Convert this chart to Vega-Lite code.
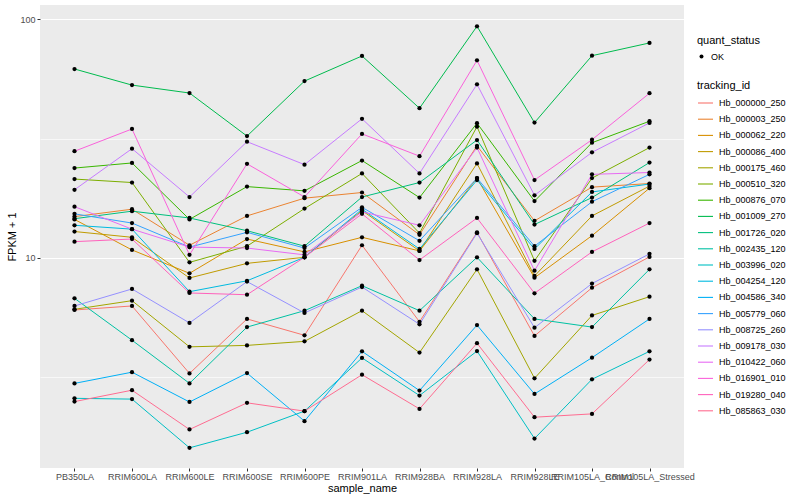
{
"$schema": "https://vega.github.io/schema/vega-lite/v6.json",
"width": 644,
"height": 463,
"autosize": "none",
"padding": {"left": 40, "top": 5, "right": 116, "bottom": 32},
"background": "white",
"datasets": {"expr": [
{"sample_name":"PB350LA","tracking_id":"Hb_000000_250","fpkm":6.05,"quant_status":"OK"},
{"sample_name":"RRIM600LA","tracking_id":"Hb_000000_250","fpkm":6.29,"quant_status":"OK"},
{"sample_name":"RRIM600LE","tracking_id":"Hb_000000_250","fpkm":3.28,"quant_status":"OK"},
{"sample_name":"RRIM600SE","tracking_id":"Hb_000000_250","fpkm":5.55,"quant_status":"OK"},
{"sample_name":"RRIM600PE","tracking_id":"Hb_000000_250","fpkm":4.74,"quant_status":"OK"},
{"sample_name":"RRIM901LA","tracking_id":"Hb_000000_250","fpkm":11.3,"quant_status":"OK"},
{"sample_name":"RRIM928BA","tracking_id":"Hb_000000_250","fpkm":5.40,"quant_status":"OK"},
{"sample_name":"RRIM928LA","tracking_id":"Hb_000000_250","fpkm":12.8,"quant_status":"OK"},
{"sample_name":"RRIM928LE","tracking_id":"Hb_000000_250","fpkm":4.71,"quant_status":"OK"},
{"sample_name":"RRIM105LA_Control","tracking_id":"Hb_000000_250","fpkm":7.50,"quant_status":"OK"},
{"sample_name":"RRIM105LA_Stressed","tracking_id":"Hb_000000_250","fpkm":10.1,"quant_status":"OK"},
{"sample_name":"PB350LA","tracking_id":"Hb_000003_250","fpkm":14.9,"quant_status":"OK"},
{"sample_name":"RRIM600LA","tracking_id":"Hb_000003_250","fpkm":16.0,"quant_status":"OK"},
{"sample_name":"RRIM600LE","tracking_id":"Hb_000003_250","fpkm":11.3,"quant_status":"OK"},
{"sample_name":"RRIM600SE","tracking_id":"Hb_000003_250","fpkm":15.0,"quant_status":"OK"},
{"sample_name":"RRIM600PE","tracking_id":"Hb_000003_250","fpkm":17.8,"quant_status":"OK"},
{"sample_name":"RRIM901LA","tracking_id":"Hb_000003_250","fpkm":18.8,"quant_status":"OK"},
{"sample_name":"RRIM928BA","tracking_id":"Hb_000003_250","fpkm":12.5,"quant_status":"OK"},
{"sample_name":"RRIM928LA","tracking_id":"Hb_000003_250","fpkm":29.5,"quant_status":"OK"},
{"sample_name":"RRIM928LE","tracking_id":"Hb_000003_250","fpkm":14.3,"quant_status":"OK"},
{"sample_name":"RRIM105LA_Control","tracking_id":"Hb_000003_250","fpkm":19.8,"quant_status":"OK"},
{"sample_name":"RRIM105LA_Stressed","tracking_id":"Hb_000003_250","fpkm":20.5,"quant_status":"OK"},
{"sample_name":"PB350LA","tracking_id":"Hb_000062_220","fpkm":14.5,"quant_status":"OK"},
{"sample_name":"RRIM600LA","tracking_id":"Hb_000062_220","fpkm":10.8,"quant_status":"OK"},
{"sample_name":"RRIM600LE","tracking_id":"Hb_000062_220","fpkm":8.62,"quant_status":"OK"},
{"sample_name":"RRIM600SE","tracking_id":"Hb_000062_220","fpkm":12.0,"quant_status":"OK"},
{"sample_name":"RRIM600PE","tracking_id":"Hb_000062_220","fpkm":10.6,"quant_status":"OK"},
{"sample_name":"RRIM901LA","tracking_id":"Hb_000062_220","fpkm":12.2,"quant_status":"OK"},
{"sample_name":"RRIM928BA","tracking_id":"Hb_000062_220","fpkm":10.7,"quant_status":"OK"},
{"sample_name":"RRIM928LA","tracking_id":"Hb_000062_220","fpkm":21.6,"quant_status":"OK"},
{"sample_name":"RRIM928LE","tracking_id":"Hb_000062_220","fpkm":8.26,"quant_status":"OK"},
{"sample_name":"RRIM105LA_Control","tracking_id":"Hb_000062_220","fpkm":12.4,"quant_status":"OK"},
{"sample_name":"RRIM105LA_Stressed","tracking_id":"Hb_000062_220","fpkm":19.6,"quant_status":"OK"},
{"sample_name":"PB350LA","tracking_id":"Hb_000086_400","fpkm":12.9,"quant_status":"OK"},
{"sample_name":"RRIM600LA","tracking_id":"Hb_000086_400","fpkm":12.2,"quant_status":"OK"},
{"sample_name":"RRIM600LE","tracking_id":"Hb_000086_400","fpkm":8.24,"quant_status":"OK"},
{"sample_name":"RRIM600SE","tracking_id":"Hb_000086_400","fpkm":9.49,"quant_status":"OK"},
{"sample_name":"RRIM600PE","tracking_id":"Hb_000086_400","fpkm":10.06,"quant_status":"OK"},
{"sample_name":"RRIM901LA","tracking_id":"Hb_000086_400","fpkm":15.8,"quant_status":"OK"},
{"sample_name":"RRIM928BA","tracking_id":"Hb_000086_400","fpkm":10.7,"quant_status":"OK"},
{"sample_name":"RRIM928LA","tracking_id":"Hb_000086_400","fpkm":24.9,"quant_status":"OK"},
{"sample_name":"RRIM928LE","tracking_id":"Hb_000086_400","fpkm":8.40,"quant_status":"OK"},
{"sample_name":"RRIM105LA_Control","tracking_id":"Hb_000086_400","fpkm":15.0,"quant_status":"OK"},
{"sample_name":"RRIM105LA_Stressed","tracking_id":"Hb_000086_400","fpkm":20.0,"quant_status":"OK"},
{"sample_name":"PB350LA","tracking_id":"Hb_000175_460","fpkm":6.09,"quant_status":"OK"},
{"sample_name":"RRIM600LA","tracking_id":"Hb_000175_460","fpkm":6.62,"quant_status":"OK"},
{"sample_name":"RRIM600LE","tracking_id":"Hb_000175_460","fpkm":4.24,"quant_status":"OK"},
{"sample_name":"RRIM600SE","tracking_id":"Hb_000175_460","fpkm":4.30,"quant_status":"OK"},
{"sample_name":"RRIM600PE","tracking_id":"Hb_000175_460","fpkm":4.47,"quant_status":"OK"},
{"sample_name":"RRIM901LA","tracking_id":"Hb_000175_460","fpkm":6.01,"quant_status":"OK"},
{"sample_name":"RRIM928BA","tracking_id":"Hb_000175_460","fpkm":4.01,"quant_status":"OK"},
{"sample_name":"RRIM928LA","tracking_id":"Hb_000175_460","fpkm":8.96,"quant_status":"OK"},
{"sample_name":"RRIM928LE","tracking_id":"Hb_000175_460","fpkm":3.13,"quant_status":"OK"},
{"sample_name":"RRIM105LA_Control","tracking_id":"Hb_000175_460","fpkm":5.74,"quant_status":"OK"},
{"sample_name":"RRIM105LA_Stressed","tracking_id":"Hb_000175_460","fpkm":6.88,"quant_status":"OK"},
{"sample_name":"PB350LA","tracking_id":"Hb_000510_320","fpkm":21.4,"quant_status":"OK"},
{"sample_name":"RRIM600LA","tracking_id":"Hb_000510_320","fpkm":20.7,"quant_status":"OK"},
{"sample_name":"RRIM600LE","tracking_id":"Hb_000510_320","fpkm":9.58,"quant_status":"OK"},
{"sample_name":"RRIM600SE","tracking_id":"Hb_000510_320","fpkm":11.2,"quant_status":"OK"},
{"sample_name":"RRIM600PE","tracking_id":"Hb_000510_320","fpkm":16.1,"quant_status":"OK"},
{"sample_name":"RRIM901LA","tracking_id":"Hb_000510_320","fpkm":22.6,"quant_status":"OK"},
{"sample_name":"RRIM928BA","tracking_id":"Hb_000510_320","fpkm":12.7,"quant_status":"OK"},
{"sample_name":"RRIM928LA","tracking_id":"Hb_000510_320","fpkm":35.5,"quant_status":"OK"},
{"sample_name":"RRIM928LE","tracking_id":"Hb_000510_320","fpkm":9.73,"quant_status":"OK"},
{"sample_name":"RRIM105LA_Control","tracking_id":"Hb_000510_320","fpkm":21.6,"quant_status":"OK"},
{"sample_name":"RRIM105LA_Stressed","tracking_id":"Hb_000510_320","fpkm":29.0,"quant_status":"OK"},
{"sample_name":"PB350LA","tracking_id":"Hb_000876_070","fpkm":23.8,"quant_status":"OK"},
{"sample_name":"RRIM600LA","tracking_id":"Hb_000876_070","fpkm":25.0,"quant_status":"OK"},
{"sample_name":"RRIM600LE","tracking_id":"Hb_000876_070","fpkm":14.5,"quant_status":"OK"},
{"sample_name":"RRIM600SE","tracking_id":"Hb_000876_070","fpkm":19.9,"quant_status":"OK"},
{"sample_name":"RRIM600PE","tracking_id":"Hb_000876_070","fpkm":19.1,"quant_status":"OK"},
{"sample_name":"RRIM901LA","tracking_id":"Hb_000876_070","fpkm":25.6,"quant_status":"OK"},
{"sample_name":"RRIM928BA","tracking_id":"Hb_000876_070","fpkm":17.9,"quant_status":"OK"},
{"sample_name":"RRIM928LA","tracking_id":"Hb_000876_070","fpkm":36.7,"quant_status":"OK"},
{"sample_name":"RRIM928LE","tracking_id":"Hb_000876_070","fpkm":17.3,"quant_status":"OK"},
{"sample_name":"RRIM105LA_Control","tracking_id":"Hb_000876_070","fpkm":30.4,"quant_status":"OK"},
{"sample_name":"RRIM105LA_Stressed","tracking_id":"Hb_000876_070","fpkm":37.4,"quant_status":"OK"},
{"sample_name":"PB350LA","tracking_id":"Hb_001009_270","fpkm":61.9,"quant_status":"OK"},
{"sample_name":"RRIM600LA","tracking_id":"Hb_001009_270","fpkm":53.0,"quant_status":"OK"},
{"sample_name":"RRIM600LE","tracking_id":"Hb_001009_270","fpkm":49.1,"quant_status":"OK"},
{"sample_name":"RRIM600SE","tracking_id":"Hb_001009_270","fpkm":32.4,"quant_status":"OK"},
{"sample_name":"RRIM600PE","tracking_id":"Hb_001009_270","fpkm":55.1,"quant_status":"OK"},
{"sample_name":"RRIM901LA","tracking_id":"Hb_001009_270","fpkm":70.2,"quant_status":"OK"},
{"sample_name":"RRIM928BA","tracking_id":"Hb_001009_270","fpkm":42.4,"quant_status":"OK"},
{"sample_name":"RRIM928LA","tracking_id":"Hb_001009_270","fpkm":93.5,"quant_status":"OK"},
{"sample_name":"RRIM928LE","tracking_id":"Hb_001009_270","fpkm":36.9,"quant_status":"OK"},
{"sample_name":"RRIM105LA_Control","tracking_id":"Hb_001009_270","fpkm":70.4,"quant_status":"OK"},
{"sample_name":"RRIM105LA_Stressed","tracking_id":"Hb_001009_270","fpkm":79.6,"quant_status":"OK"},
{"sample_name":"PB350LA","tracking_id":"Hb_001726_020","fpkm":14.6,"quant_status":"OK"},
{"sample_name":"RRIM600LA","tracking_id":"Hb_001726_020","fpkm":15.7,"quant_status":"OK"},
{"sample_name":"RRIM600LE","tracking_id":"Hb_001726_020","fpkm":14.7,"quant_status":"OK"},
{"sample_name":"RRIM600SE","tracking_id":"Hb_001726_020","fpkm":13.0,"quant_status":"OK"},
{"sample_name":"RRIM600PE","tracking_id":"Hb_001726_020","fpkm":11.2,"quant_status":"OK"},
{"sample_name":"RRIM901LA","tracking_id":"Hb_001726_020","fpkm":18.0,"quant_status":"OK"},
{"sample_name":"RRIM928BA","tracking_id":"Hb_001726_020","fpkm":20.7,"quant_status":"OK"},
{"sample_name":"RRIM928LA","tracking_id":"Hb_001726_020","fpkm":31.2,"quant_status":"OK"},
{"sample_name":"RRIM928LE","tracking_id":"Hb_001726_020","fpkm":13.8,"quant_status":"OK"},
{"sample_name":"RRIM105LA_Control","tracking_id":"Hb_001726_020","fpkm":17.9,"quant_status":"OK"},
{"sample_name":"RRIM105LA_Stressed","tracking_id":"Hb_001726_020","fpkm":25.1,"quant_status":"OK"},
{"sample_name":"PB350LA","tracking_id":"Hb_002435_120","fpkm":6.77,"quant_status":"OK"},
{"sample_name":"RRIM600LA","tracking_id":"Hb_002435_120","fpkm":4.52,"quant_status":"OK"},
{"sample_name":"RRIM600LE","tracking_id":"Hb_002435_120","fpkm":2.98,"quant_status":"OK"},
{"sample_name":"RRIM600SE","tracking_id":"Hb_002435_120","fpkm":5.13,"quant_status":"OK"},
{"sample_name":"RRIM600PE","tracking_id":"Hb_002435_120","fpkm":6.01,"quant_status":"OK"},
{"sample_name":"RRIM901LA","tracking_id":"Hb_002435_120","fpkm":7.65,"quant_status":"OK"},
{"sample_name":"RRIM928BA","tracking_id":"Hb_002435_120","fpkm":6.01,"quant_status":"OK"},
{"sample_name":"RRIM928LA","tracking_id":"Hb_002435_120","fpkm":10.06,"quant_status":"OK"},
{"sample_name":"RRIM928LE","tracking_id":"Hb_002435_120","fpkm":5.55,"quant_status":"OK"},
{"sample_name":"RRIM105LA_Control","tracking_id":"Hb_002435_120","fpkm":5.13,"quant_status":"OK"},
{"sample_name":"RRIM105LA_Stressed","tracking_id":"Hb_002435_120","fpkm":8.96,"quant_status":"OK"},
{"sample_name":"PB350LA","tracking_id":"Hb_003996_020","fpkm":2.58,"quant_status":"OK"},
{"sample_name":"RRIM600LA","tracking_id":"Hb_003996_020","fpkm":2.56,"quant_status":"OK"},
{"sample_name":"RRIM600LE","tracking_id":"Hb_003996_020","fpkm":1.60,"quant_status":"OK"},
{"sample_name":"RRIM600SE","tracking_id":"Hb_003996_020","fpkm":1.86,"quant_status":"OK"},
{"sample_name":"RRIM600PE","tracking_id":"Hb_003996_020","fpkm":2.28,"quant_status":"OK"},
{"sample_name":"RRIM901LA","tracking_id":"Hb_003996_020","fpkm":3.81,"quant_status":"OK"},
{"sample_name":"RRIM928BA","tracking_id":"Hb_003996_020","fpkm":2.65,"quant_status":"OK"},
{"sample_name":"RRIM928LA","tracking_id":"Hb_003996_020","fpkm":4.07,"quant_status":"OK"},
{"sample_name":"RRIM928LE","tracking_id":"Hb_003996_020","fpkm":1.75,"quant_status":"OK"},
{"sample_name":"RRIM105LA_Control","tracking_id":"Hb_003996_020","fpkm":3.10,"quant_status":"OK"},
{"sample_name":"RRIM105LA_Stressed","tracking_id":"Hb_003996_020","fpkm":4.06,"quant_status":"OK"},
{"sample_name":"PB350LA","tracking_id":"Hb_004254_120","fpkm":13.7,"quant_status":"OK"},
{"sample_name":"RRIM600LA","tracking_id":"Hb_004254_120","fpkm":13.2,"quant_status":"OK"},
{"sample_name":"RRIM600LE","tracking_id":"Hb_004254_120","fpkm":7.22,"quant_status":"OK"},
{"sample_name":"RRIM600SE","tracking_id":"Hb_004254_120","fpkm":8.02,"quant_status":"OK"},
{"sample_name":"RRIM600PE","tracking_id":"Hb_004254_120","fpkm":10.06,"quant_status":"OK"},
{"sample_name":"RRIM901LA","tracking_id":"Hb_004254_120","fpkm":16.0,"quant_status":"OK"},
{"sample_name":"RRIM928BA","tracking_id":"Hb_004254_120","fpkm":10.9,"quant_status":"OK"},
{"sample_name":"RRIM928LA","tracking_id":"Hb_004254_120","fpkm":21.2,"quant_status":"OK"},
{"sample_name":"RRIM928LE","tracking_id":"Hb_004254_120","fpkm":10.9,"quant_status":"OK"},
{"sample_name":"RRIM105LA_Control","tracking_id":"Hb_004254_120","fpkm":18.9,"quant_status":"OK"},
{"sample_name":"RRIM105LA_Stressed","tracking_id":"Hb_004254_120","fpkm":20.4,"quant_status":"OK"},
{"sample_name":"PB350LA","tracking_id":"Hb_004586_340","fpkm":2.98,"quant_status":"OK"},
{"sample_name":"RRIM600LA","tracking_id":"Hb_004586_340","fpkm":3.32,"quant_status":"OK"},
{"sample_name":"RRIM600LE","tracking_id":"Hb_004586_340","fpkm":2.49,"quant_status":"OK"},
{"sample_name":"RRIM600SE","tracking_id":"Hb_004586_340","fpkm":3.29,"quant_status":"OK"},
{"sample_name":"RRIM600PE","tracking_id":"Hb_004586_340","fpkm":2.07,"quant_status":"OK"},
{"sample_name":"RRIM901LA","tracking_id":"Hb_004586_340","fpkm":4.06,"quant_status":"OK"},
{"sample_name":"RRIM928BA","tracking_id":"Hb_004586_340","fpkm":2.78,"quant_status":"OK"},
{"sample_name":"RRIM928LA","tracking_id":"Hb_004586_340","fpkm":5.23,"quant_status":"OK"},
{"sample_name":"RRIM928LE","tracking_id":"Hb_004586_340","fpkm":2.69,"quant_status":"OK"},
{"sample_name":"RRIM105LA_Control","tracking_id":"Hb_004586_340","fpkm":3.82,"quant_status":"OK"},
{"sample_name":"RRIM105LA_Stressed","tracking_id":"Hb_004586_340","fpkm":5.55,"quant_status":"OK"},
{"sample_name":"PB350LA","tracking_id":"Hb_005779_060","fpkm":15.3,"quant_status":"OK"},
{"sample_name":"RRIM600LA","tracking_id":"Hb_005779_060","fpkm":14.0,"quant_status":"OK"},
{"sample_name":"RRIM600LE","tracking_id":"Hb_005779_060","fpkm":11.1,"quant_status":"OK"},
{"sample_name":"RRIM600SE","tracking_id":"Hb_005779_060","fpkm":12.8,"quant_status":"OK"},
{"sample_name":"RRIM600PE","tracking_id":"Hb_005779_060","fpkm":11.0,"quant_status":"OK"},
{"sample_name":"RRIM901LA","tracking_id":"Hb_005779_060","fpkm":16.3,"quant_status":"OK"},
{"sample_name":"RRIM928BA","tracking_id":"Hb_005779_060","fpkm":11.8,"quant_status":"OK"},
{"sample_name":"RRIM928LA","tracking_id":"Hb_005779_060","fpkm":21.6,"quant_status":"OK"},
{"sample_name":"RRIM928LE","tracking_id":"Hb_005779_060","fpkm":11.2,"quant_status":"OK"},
{"sample_name":"RRIM105LA_Control","tracking_id":"Hb_005779_060","fpkm":17.2,"quant_status":"OK"},
{"sample_name":"RRIM105LA_Stressed","tracking_id":"Hb_005779_060","fpkm":22.4,"quant_status":"OK"},
{"sample_name":"PB350LA","tracking_id":"Hb_008725_260","fpkm":6.29,"quant_status":"OK"},
{"sample_name":"RRIM600LA","tracking_id":"Hb_008725_260","fpkm":7.41,"quant_status":"OK"},
{"sample_name":"RRIM600LE","tracking_id":"Hb_008725_260","fpkm":5.34,"quant_status":"OK"},
{"sample_name":"RRIM600SE","tracking_id":"Hb_008725_260","fpkm":7.96,"quant_status":"OK"},
{"sample_name":"RRIM600PE","tracking_id":"Hb_008725_260","fpkm":5.88,"quant_status":"OK"},
{"sample_name":"RRIM901LA","tracking_id":"Hb_008725_260","fpkm":7.55,"quant_status":"OK"},
{"sample_name":"RRIM928BA","tracking_id":"Hb_008725_260","fpkm":5.27,"quant_status":"OK"},
{"sample_name":"RRIM928LA","tracking_id":"Hb_008725_260","fpkm":12.7,"quant_status":"OK"},
{"sample_name":"RRIM928LE","tracking_id":"Hb_008725_260","fpkm":5.10,"quant_status":"OK"},
{"sample_name":"RRIM105LA_Control","tracking_id":"Hb_008725_260","fpkm":7.81,"quant_status":"OK"},
{"sample_name":"RRIM105LA_Stressed","tracking_id":"Hb_008725_260","fpkm":10.4,"quant_status":"OK"},
{"sample_name":"PB350LA","tracking_id":"Hb_009178_030","fpkm":19.3,"quant_status":"OK"},
{"sample_name":"RRIM600LA","tracking_id":"Hb_009178_030","fpkm":28.7,"quant_status":"OK"},
{"sample_name":"RRIM600LE","tracking_id":"Hb_009178_030","fpkm":18.0,"quant_status":"OK"},
{"sample_name":"RRIM600SE","tracking_id":"Hb_009178_030","fpkm":30.7,"quant_status":"OK"},
{"sample_name":"RRIM600PE","tracking_id":"Hb_009178_030","fpkm":24.6,"quant_status":"OK"},
{"sample_name":"RRIM901LA","tracking_id":"Hb_009178_030","fpkm":38.3,"quant_status":"OK"},
{"sample_name":"RRIM928BA","tracking_id":"Hb_009178_030","fpkm":22.6,"quant_status":"OK"},
{"sample_name":"RRIM928LA","tracking_id":"Hb_009178_030","fpkm":53.4,"quant_status":"OK"},
{"sample_name":"RRIM928LE","tracking_id":"Hb_009178_030","fpkm":18.3,"quant_status":"OK"},
{"sample_name":"RRIM105LA_Control","tracking_id":"Hb_009178_030","fpkm":27.7,"quant_status":"OK"},
{"sample_name":"RRIM105LA_Stressed","tracking_id":"Hb_009178_030","fpkm":36.8,"quant_status":"OK"},
{"sample_name":"PB350LA","tracking_id":"Hb_010422_060","fpkm":16.4,"quant_status":"OK"},
{"sample_name":"RRIM600LA","tracking_id":"Hb_010422_060","fpkm":13.2,"quant_status":"OK"},
{"sample_name":"RRIM600LE","tracking_id":"Hb_010422_060","fpkm":11.1,"quant_status":"OK"},
{"sample_name":"RRIM600SE","tracking_id":"Hb_010422_060","fpkm":11.0,"quant_status":"OK"},
{"sample_name":"RRIM600PE","tracking_id":"Hb_010422_060","fpkm":10.3,"quant_status":"OK"},
{"sample_name":"RRIM901LA","tracking_id":"Hb_010422_060","fpkm":15.6,"quant_status":"OK"},
{"sample_name":"RRIM928BA","tracking_id":"Hb_010422_060","fpkm":13.7,"quant_status":"OK"},
{"sample_name":"RRIM928LA","tracking_id":"Hb_010422_060","fpkm":29.0,"quant_status":"OK"},
{"sample_name":"RRIM928LE","tracking_id":"Hb_010422_060","fpkm":8.84,"quant_status":"OK"},
{"sample_name":"RRIM105LA_Control","tracking_id":"Hb_010422_060","fpkm":22.4,"quant_status":"OK"},
{"sample_name":"RRIM105LA_Stressed","tracking_id":"Hb_010422_060","fpkm":22.8,"quant_status":"OK"},
{"sample_name":"PB350LA","tracking_id":"Hb_016901_010","fpkm":28.0,"quant_status":"OK"},
{"sample_name":"RRIM600LA","tracking_id":"Hb_016901_010","fpkm":34.7,"quant_status":"OK"},
{"sample_name":"RRIM600LE","tracking_id":"Hb_016901_010","fpkm":10.3,"quant_status":"OK"},
{"sample_name":"RRIM600SE","tracking_id":"Hb_016901_010","fpkm":24.8,"quant_status":"OK"},
{"sample_name":"RRIM600PE","tracking_id":"Hb_016901_010","fpkm":18.0,"quant_status":"OK"},
{"sample_name":"RRIM901LA","tracking_id":"Hb_016901_010","fpkm":33.1,"quant_status":"OK"},
{"sample_name":"RRIM928BA","tracking_id":"Hb_016901_010","fpkm":26.7,"quant_status":"OK"},
{"sample_name":"RRIM928LA","tracking_id":"Hb_016901_010","fpkm":67.3,"quant_status":"OK"},
{"sample_name":"RRIM928LE","tracking_id":"Hb_016901_010","fpkm":21.2,"quant_status":"OK"},
{"sample_name":"RRIM105LA_Control","tracking_id":"Hb_016901_010","fpkm":31.3,"quant_status":"OK"},
{"sample_name":"RRIM105LA_Stressed","tracking_id":"Hb_016901_010","fpkm":49.0,"quant_status":"OK"},
{"sample_name":"PB350LA","tracking_id":"Hb_019280_040","fpkm":11.7,"quant_status":"OK"},
{"sample_name":"RRIM600LA","tracking_id":"Hb_019280_040","fpkm":12.0,"quant_status":"OK"},
{"sample_name":"RRIM600LE","tracking_id":"Hb_019280_040","fpkm":7.13,"quant_status":"OK"},
{"sample_name":"RRIM600SE","tracking_id":"Hb_019280_040","fpkm":7.01,"quant_status":"OK"},
{"sample_name":"RRIM600PE","tracking_id":"Hb_019280_040","fpkm":10.06,"quant_status":"OK"},
{"sample_name":"RRIM901LA","tracking_id":"Hb_019280_040","fpkm":15.3,"quant_status":"OK"},
{"sample_name":"RRIM928BA","tracking_id":"Hb_019280_040","fpkm":9.80,"quant_status":"OK"},
{"sample_name":"RRIM928LA","tracking_id":"Hb_019280_040","fpkm":14.7,"quant_status":"OK"},
{"sample_name":"RRIM928LE","tracking_id":"Hb_019280_040","fpkm":7.11,"quant_status":"OK"},
{"sample_name":"RRIM105LA_Control","tracking_id":"Hb_019280_040","fpkm":10.6,"quant_status":"OK"},
{"sample_name":"RRIM105LA_Stressed","tracking_id":"Hb_019280_040","fpkm":14.0,"quant_status":"OK"},
{"sample_name":"PB350LA","tracking_id":"Hb_085863_030","fpkm":2.50,"quant_status":"OK"},
{"sample_name":"RRIM600LA","tracking_id":"Hb_085863_030","fpkm":2.79,"quant_status":"OK"},
{"sample_name":"RRIM600LE","tracking_id":"Hb_085863_030","fpkm":1.91,"quant_status":"OK"},
{"sample_name":"RRIM600SE","tracking_id":"Hb_085863_030","fpkm":2.47,"quant_status":"OK"},
{"sample_name":"RRIM600PE","tracking_id":"Hb_085863_030","fpkm":2.28,"quant_status":"OK"},
{"sample_name":"RRIM901LA","tracking_id":"Hb_085863_030","fpkm":3.24,"quant_status":"OK"},
{"sample_name":"RRIM928BA","tracking_id":"Hb_085863_030","fpkm":2.33,"quant_status":"OK"},
{"sample_name":"RRIM928LA","tracking_id":"Hb_085863_030","fpkm":4.39,"quant_status":"OK"},
{"sample_name":"RRIM928LE","tracking_id":"Hb_085863_030","fpkm":2.15,"quant_status":"OK"},
{"sample_name":"RRIM105LA_Control","tracking_id":"Hb_085863_030","fpkm":2.22,"quant_status":"OK"},
{"sample_name":"RRIM105LA_Stressed","tracking_id":"Hb_085863_030","fpkm":3.75,"quant_status":"OK"}
]},
"data": {"name": "expr"},
"config": {
  "font": "Liberation Sans",
  "view": {"fill": "#EBEBEB", "stroke": null},
  "axis": {"domain": false, "gridColor": "white", "tickColor": "#333333", "tickSize": 3, "labelColor": "#4D4D4D", "labelFontSize": 9, "titleFontSize": 11, "titleFontWeight": "normal", "titleColor": "black"},
  "legend": {"padding": 0, "titleFontSize": 11, "titleFontWeight": "normal", "titleColor": "black", "labelFontSize": 9, "labelColor": "black"}
},
"encoding": {
  "x": {"field": "sample_name", "type": "nominal",
        "scale": {"type": "point", "padding": 0.6, "domain": ["PB350LA","RRIM600LA","RRIM600LE","RRIM600SE","RRIM600PE","RRIM901LA","RRIM928BA","RRIM928LA","RRIM928LE","RRIM105LA_Control","RRIM105LA_Stressed"]},
        "axis": {"title": "sample_name", "labelAngle": 0, "labelOverlap": false, "labelBound": false, "labelPadding": 1, "gridWidth": 1.1, "titleY": 20, "titleBaseline": "middle"}},
  "y": {"field": "fpkm", "type": "quantitative",
        "scale": {"type": "log", "domain": [1.317, 114.8], "nice": false, "zero": false},
        "axis": {"title": "FPKM + 1", "values": [3.1623, 10, 31.623, 100], "labelPadding": 2,
                 "labelExpr": "(datum.value == 10 || datum.value == 100) ? datum.label : ''",
                 "gridWidth": {"condition": {"test": "datum.value == 10 || datum.value == 100", "value": 1.1}, "value": 0.8},
                 "gridOpacity": {"condition": {"test": "datum.value == 10 || datum.value == 100", "value": 1}, "value": 0.8},
                 "tickOpacity": {"condition": {"test": "datum.value == 10 || datum.value == 100", "value": 1}, "value": 0},
                 "titleX": -28, "titleY": 231.5, "titleBaseline": "middle", "titleAngle": -90}}
},
"layer": [
  {"mark": {"type": "line", "strokeWidth": 1},
   "encoding": {
     "order": {"value": null},
     "detail": {"field": "tracking_id"},
     "color": {"field": "tracking_id", "type": "nominal",
       "scale": {"domain": ["Hb_000000_250","Hb_000003_250","Hb_000062_220","Hb_000086_400","Hb_000175_460","Hb_000510_320","Hb_000876_070","Hb_001009_270","Hb_001726_020","Hb_002435_120","Hb_003996_020","Hb_004254_120","Hb_004586_340","Hb_005779_060","Hb_008725_260","Hb_009178_030","Hb_010422_060","Hb_016901_010","Hb_019280_040","Hb_085863_030"],
                 "range": ["#F8766D","#EA8331","#D89000","#C09B00","#A3A500","#7CAE00","#39B600","#00BB4E","#00BF7D","#00C1A3","#00BFC4","#00BAE0","#00B0F6","#35A2FF","#9590FF","#C77CFF","#E76BF3","#FA62DB","#FF62BC","#FF6C91"]},
       "legend": {"title": "tracking_id", "orient": "none", "legendX": 657, "legendY": 75, "symbolType": "stroke", "symbolSize": 225, "symbolStrokeWidth": 1.1, "rowPadding": 2.2, "titlePadding": 3.5, "labelOffset": 5}}
   }},
  {"mark": {"type": "point", "filled": true, "color": "black", "opacity": 1, "size": 18},
   "encoding": {
     "shape": {"field": "quant_status", "type": "nominal", "scale": {"range": ["circle"]},
       "legend": {"title": "quant_status", "orient": "none", "legendX": 657, "legendY": 30, "symbolFillColor": "black", "symbolStrokeColor": "black", "symbolSize": 16, "titlePadding": 6, "labelOffset": 5}}
   }}
]
}
